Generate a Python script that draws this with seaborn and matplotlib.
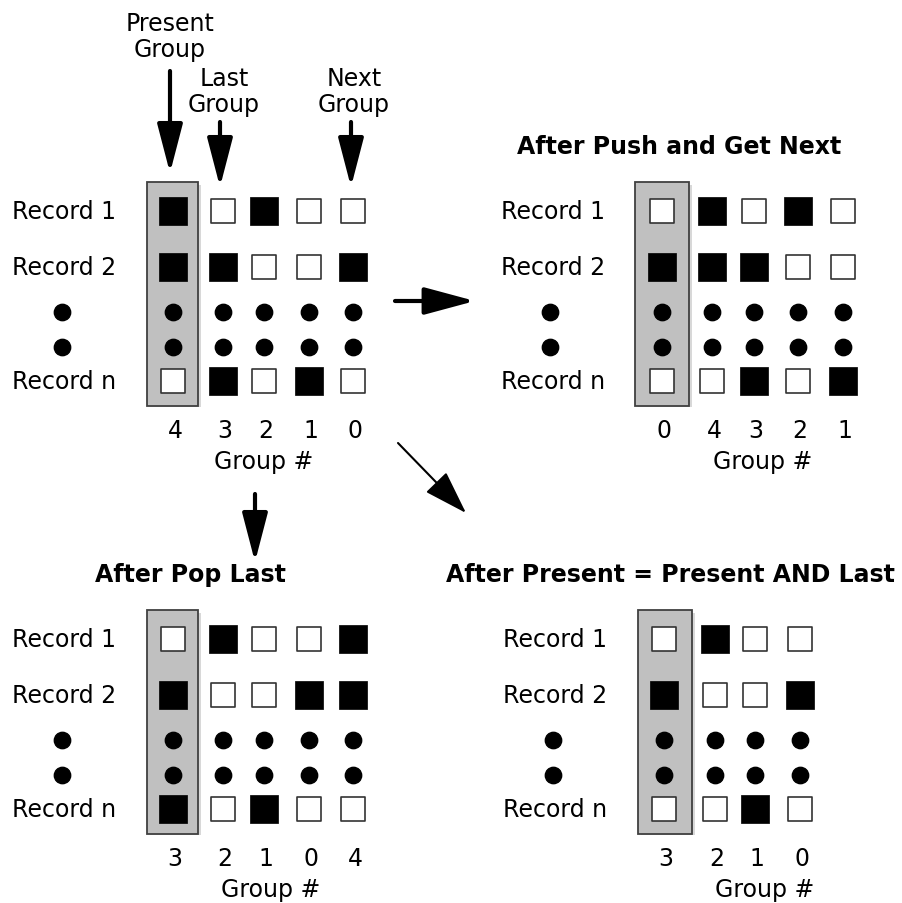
import pandas as pd
import matplotlib
matplotlib.use("Agg")
import matplotlib.pyplot as plt
from matplotlib.patches import Rectangle
import seaborn as sns

sns.set_theme(style="white")
plt.rcParams['font.family'] = ['DejaVu Sans']
plt.rcParams['text.color'] = 'black'

# group numbers shown under each column, left to right
groups_start = [4, 3, 2, 1, 0]
groups_push = [0, 4, 3, 2, 1]
groups_pop = [3, 2, 1, 0, 4]
groups_and = [3, 2, 1, 0]

# bit states (1 = set) for Record 1, Record 2 and Record n
start_r1 = [1, 0, 1, 0, 0]
start_r2 = [1, 1, 0, 0, 1]
start_rn = [0, 1, 0, 1, 0]

push_r1 = [0, 1, 0, 1, 0]
push_r2 = [1, 1, 1, 0, 0]
push_rn = [0, 0, 1, 0, 1]

pop_r1 = [0, 1, 0, 0, 1]
pop_r2 = [1, 0, 0, 1, 1]
pop_rn = [1, 0, 1, 0, 0]

and_r1 = [0, 1, 0, 0]
and_r2 = [1, 0, 0, 1]
and_rn = [0, 0, 1, 0]

row_labels = ["Record 1", "Record 2", "Record n"]

fig = plt.figure(figsize=(9.03, 9.04), dpi=100)
ax = fig.add_axes([0, 0, 1, 1])
ax.set_xlim(0, 903)
ax.set_ylim(904, 0)
ax.axis("off")

FS = 17


def panel(groups, r1, r2, rn, xs, top, label_x, dot_x, box_x, group_x, title=None, title_x=None):
    # rows: record 1, record 2, two dot rows, record n
    ys = [top, top + 56, top + 101, top + 136, top + 170]
    # present-group highlight box with a light shadow
    bx0, bx1 = box_x
    ax.add_patch(Rectangle((bx0 + 3, ys[0] - 26), bx1 - bx0, ys[4] - ys[0] + 52,
                           facecolor="#d8d8d8", edgecolor="none", zorder=1))
    ax.add_patch(Rectangle((bx0, ys[0] - 29), bx1 - bx0, ys[4] - ys[0] + 54,
                           facecolor="#c0c0c0", edgecolor="#404040", lw=1.3, zorder=2))

    rows = []
    for y, bits in zip([ys[0], ys[1], ys[4]], [r1, r2, rn]):
        for x, b in zip(xs, bits):
            rows.append({"x": x, "y": y, "bit": b})
    df = pd.DataFrame(rows)
    on = df[df.bit == 1]
    off = df[df.bit == 0]
    sns.scatterplot(data=on, x="x", y="y", marker="s", s=400, color="black",
                    edgecolor="black", linewidth=0.5, ax=ax, zorder=4, legend=False)
    sns.scatterplot(data=off, x="x", y="y", marker="s", s=300, color="white",
                    edgecolor="#333333", linewidth=1.2, ax=ax, zorder=4, legend=False)

    dots = pd.DataFrame([{"x": x, "y": y} for y in ys[2:4] for x in [dot_x] + list(xs)])
    sns.scatterplot(data=dots, x="x", y="y", marker="o", s=140, color="black",
                    edgecolor="black", ax=ax, zorder=4, legend=False)

    for lab, y in zip(row_labels, [ys[0], ys[1], ys[4]]):
        ax.text(label_x, y, lab, fontsize=FS, ha="left", va="center")
    for x, g in zip(xs, groups):
        ax.text(x + 2, top + 219, str(g), fontsize=FS, ha="center", va="center")
    ax.text(group_x, top + 250, "Group #", fontsize=FS, ha="center", va="center")
    if title:
        ax.text(title_x, top - 65, title, fontsize=17, fontweight="bold", ha="center", va="center")


panel(groups_start, start_r1, start_r2, start_rn, [173, 223, 264, 309, 353], 212, 12, 62, (147, 198), 264)
panel(groups_push, push_r1, push_r2, push_rn, [662, 712, 754, 798, 843], 212, 501, 550, (635, 689), 763,
      "After Push and Get Next", 679)
panel(groups_pop, pop_r1, pop_r2, pop_rn, [173, 223, 264, 309, 353], 640, 12, 62, (147, 198), 271,
      "After Pop Last", 190)
panel(groups_and, and_r1, and_r2, and_rn, [664, 715, 755, 800], 640, 503, 553, (638, 692), 765,
      "After Present = Present AND Last", 670)

# labels pointing at the columns of the starting state
ax.text(170, 37, "Present\nGroup", fontsize=FS, ha="center", va="center", linespacing=1.15)
ax.text(224, 92, "Last\nGroup", fontsize=FS, ha="center", va="center", linespacing=1.15)
ax.text(354, 92, "Next\nGroup", fontsize=FS, ha="center", va="center", linespacing=1.15)


def arrow(x0, y0, x1, y1, lw=3, hw=1.0, hl=2.0):
    ax.annotate("", xy=(x1, y1), xytext=(x0, y0),
                arrowprops=dict(arrowstyle=f"-|>,head_width={hw},head_length={hl}",
                                color="black", lw=lw, shrinkA=0, shrinkB=0))


arrow(170, 72, 170, 174, hw=0.65, hl=2.5)
arrow(220, 123, 220, 188, hw=0.65, hl=2.5)
arrow(351, 123, 351, 188, hw=0.65, hl=2.5)
arrow(395, 302, 475, 302, hw=0.7, hl=2.6)
arrow(398, 444, 466, 514, lw=1.5, hw=0.75, hl=2.3)
arrow(255, 495, 255, 563, hw=0.65, hl=2.5)

plt.savefig("out.png", dpi=100)
